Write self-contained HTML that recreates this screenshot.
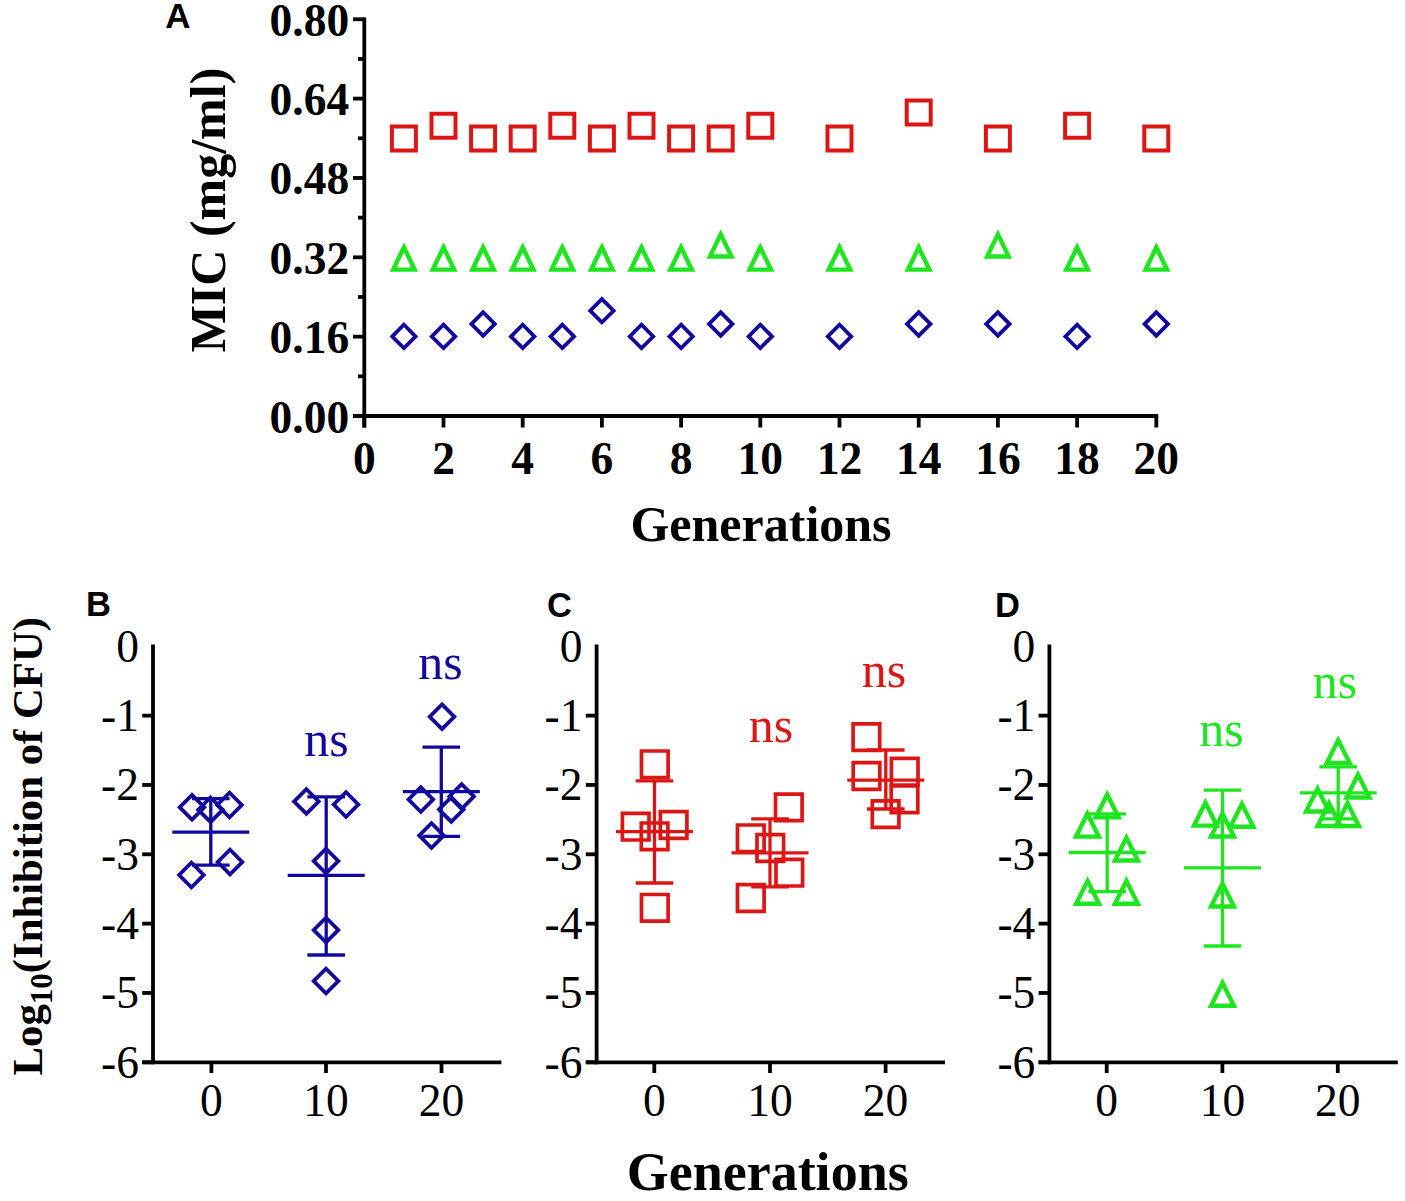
<!DOCTYPE html>
<html><head><meta charset="utf-8"><style>
html,body{margin:0;padding:0;background:#fff;}
svg{display:block;}
</style></head><body>
<svg width="1405" height="1201" viewBox="0 0 1405 1201">
<rect width="1405" height="1201" fill="#fff"/>
<line x1="364.30" y1="17.38" x2="364.30" y2="427.50" stroke="#000" stroke-width="3.8" stroke-linecap="butt"/>
<line x1="353.00" y1="416.00" x2="1158.20" y2="416.00" stroke="#000" stroke-width="3.8" stroke-linecap="butt"/>
<line x1="353.00" y1="416.00" x2="364.30" y2="416.00" stroke="#000" stroke-width="3.8" stroke-linecap="butt"/>
<line x1="353.00" y1="336.66" x2="364.30" y2="336.66" stroke="#000" stroke-width="3.8" stroke-linecap="butt"/>
<line x1="353.00" y1="257.31" x2="364.30" y2="257.31" stroke="#000" stroke-width="3.8" stroke-linecap="butt"/>
<line x1="353.00" y1="177.97" x2="364.30" y2="177.97" stroke="#000" stroke-width="3.8" stroke-linecap="butt"/>
<line x1="353.00" y1="98.62" x2="364.30" y2="98.62" stroke="#000" stroke-width="3.8" stroke-linecap="butt"/>
<line x1="353.00" y1="19.28" x2="364.30" y2="19.28" stroke="#000" stroke-width="3.8" stroke-linecap="butt"/>
<line x1="358.00" y1="376.33" x2="364.30" y2="376.33" stroke="#000" stroke-width="3.8" stroke-linecap="butt"/>
<line x1="358.00" y1="296.98" x2="364.30" y2="296.98" stroke="#000" stroke-width="3.8" stroke-linecap="butt"/>
<line x1="358.00" y1="217.64" x2="364.30" y2="217.64" stroke="#000" stroke-width="3.8" stroke-linecap="butt"/>
<line x1="358.00" y1="138.30" x2="364.30" y2="138.30" stroke="#000" stroke-width="3.8" stroke-linecap="butt"/>
<line x1="358.00" y1="58.95" x2="364.30" y2="58.95" stroke="#000" stroke-width="3.8" stroke-linecap="butt"/>
<line x1="364.30" y1="416.00" x2="364.30" y2="427.50" stroke="#000" stroke-width="3.8" stroke-linecap="butt"/>
<line x1="443.50" y1="416.00" x2="443.50" y2="427.50" stroke="#000" stroke-width="3.8" stroke-linecap="butt"/>
<line x1="522.70" y1="416.00" x2="522.70" y2="427.50" stroke="#000" stroke-width="3.8" stroke-linecap="butt"/>
<line x1="601.90" y1="416.00" x2="601.90" y2="427.50" stroke="#000" stroke-width="3.8" stroke-linecap="butt"/>
<line x1="681.10" y1="416.00" x2="681.10" y2="427.50" stroke="#000" stroke-width="3.8" stroke-linecap="butt"/>
<line x1="760.30" y1="416.00" x2="760.30" y2="427.50" stroke="#000" stroke-width="3.8" stroke-linecap="butt"/>
<line x1="839.50" y1="416.00" x2="839.50" y2="427.50" stroke="#000" stroke-width="3.8" stroke-linecap="butt"/>
<line x1="918.70" y1="416.00" x2="918.70" y2="427.50" stroke="#000" stroke-width="3.8" stroke-linecap="butt"/>
<line x1="997.90" y1="416.00" x2="997.90" y2="427.50" stroke="#000" stroke-width="3.8" stroke-linecap="butt"/>
<line x1="1077.10" y1="416.00" x2="1077.10" y2="427.50" stroke="#000" stroke-width="3.8" stroke-linecap="butt"/>
<line x1="1156.30" y1="416.00" x2="1156.30" y2="427.50" stroke="#000" stroke-width="3.8" stroke-linecap="butt"/>
<text x="349.20" y="432.50" font-family="Liberation Serif" font-size="45.5" font-weight="bold" text-anchor="end" fill="#000" >0.00</text>
<text x="349.20" y="353.16" font-family="Liberation Serif" font-size="45.5" font-weight="bold" text-anchor="end" fill="#000" >0.16</text>
<text x="349.20" y="273.81" font-family="Liberation Serif" font-size="45.5" font-weight="bold" text-anchor="end" fill="#000" >0.32</text>
<text x="349.20" y="194.47" font-family="Liberation Serif" font-size="45.5" font-weight="bold" text-anchor="end" fill="#000" >0.48</text>
<text x="349.20" y="115.12" font-family="Liberation Serif" font-size="45.5" font-weight="bold" text-anchor="end" fill="#000" >0.64</text>
<text x="349.20" y="35.78" font-family="Liberation Serif" font-size="45.5" font-weight="bold" text-anchor="end" fill="#000" >0.80</text>
<text x="364.30" y="474.20" font-family="Liberation Serif" font-size="45.5" font-weight="bold" text-anchor="middle" fill="#000" >0</text>
<text x="443.50" y="474.20" font-family="Liberation Serif" font-size="45.5" font-weight="bold" text-anchor="middle" fill="#000" >2</text>
<text x="522.70" y="474.20" font-family="Liberation Serif" font-size="45.5" font-weight="bold" text-anchor="middle" fill="#000" >4</text>
<text x="601.90" y="474.20" font-family="Liberation Serif" font-size="45.5" font-weight="bold" text-anchor="middle" fill="#000" >6</text>
<text x="681.10" y="474.20" font-family="Liberation Serif" font-size="45.5" font-weight="bold" text-anchor="middle" fill="#000" >8</text>
<text x="760.30" y="474.20" font-family="Liberation Serif" font-size="45.5" font-weight="bold" text-anchor="middle" fill="#000" >10</text>
<text x="839.50" y="474.20" font-family="Liberation Serif" font-size="45.5" font-weight="bold" text-anchor="middle" fill="#000" >12</text>
<text x="918.70" y="474.20" font-family="Liberation Serif" font-size="45.5" font-weight="bold" text-anchor="middle" fill="#000" >14</text>
<text x="997.90" y="474.20" font-family="Liberation Serif" font-size="45.5" font-weight="bold" text-anchor="middle" fill="#000" >16</text>
<text x="1077.10" y="474.20" font-family="Liberation Serif" font-size="45.5" font-weight="bold" text-anchor="middle" fill="#000" >18</text>
<text x="1156.30" y="474.20" font-family="Liberation Serif" font-size="45.5" font-weight="bold" text-anchor="middle" fill="#000" >20</text>
<text x="761.00" y="541.20" font-family="Liberation Serif" font-size="50" font-weight="bold" text-anchor="middle" fill="#000" >Generations</text>
<text x="165.30" y="27.60" font-family="Liberation Sans" font-size="35" font-weight="bold" text-anchor="start" fill="#000" >A</text>
<text transform="translate(224.5,210) rotate(-90)" font-family="Liberation Serif" font-size="50" font-weight="bold" text-anchor="middle" fill="#000">MIC (mg/ml)</text>
<path d="M389.90,124.60H417.90V152.60H389.90Z M393.90,128.60V148.60H413.90V128.60Z" fill="#dc1515"/>
<path d="M429.50,111.80H457.50V139.80H429.50Z M433.50,115.80V135.80H453.50V115.80Z" fill="#dc1515"/>
<path d="M469.10,124.60H497.10V152.60H469.10Z M473.10,128.60V148.60H493.10V128.60Z" fill="#dc1515"/>
<path d="M508.70,124.60H536.70V152.60H508.70Z M512.70,128.60V148.60H532.70V128.60Z" fill="#dc1515"/>
<path d="M548.30,111.80H576.30V139.80H548.30Z M552.30,115.80V135.80H572.30V115.80Z" fill="#dc1515"/>
<path d="M587.90,124.60H615.90V152.60H587.90Z M591.90,128.60V148.60H611.90V128.60Z" fill="#dc1515"/>
<path d="M627.50,111.80H655.50V139.80H627.50Z M631.50,115.80V135.80H651.50V115.80Z" fill="#dc1515"/>
<path d="M667.10,124.60H695.10V152.60H667.10Z M671.10,128.60V148.60H691.10V128.60Z" fill="#dc1515"/>
<path d="M706.70,124.60H734.70V152.60H706.70Z M710.70,128.60V148.60H730.70V128.60Z" fill="#dc1515"/>
<path d="M746.30,111.80H774.30V139.80H746.30Z M750.30,115.80V135.80H770.30V115.80Z" fill="#dc1515"/>
<path d="M825.50,124.60H853.50V152.60H825.50Z M829.50,128.60V148.60H849.50V128.60Z" fill="#dc1515"/>
<path d="M904.70,98.40H932.70V126.40H904.70Z M908.70,102.40V122.40H928.70V102.40Z" fill="#dc1515"/>
<path d="M983.90,124.60H1011.90V152.60H983.90Z M987.90,128.60V148.60H1007.90V128.60Z" fill="#dc1515"/>
<path d="M1063.10,111.80H1091.10V139.80H1063.10Z M1067.10,115.80V135.80H1087.10V115.80Z" fill="#dc1515"/>
<path d="M1142.30,124.60H1170.30V152.60H1142.30Z M1146.30,128.60V148.60H1166.30V128.60Z" fill="#dc1515"/>
<path d="M403.90,242.30L418.15,271.80L389.65,271.80Z M403.90,252.42L396.66,267.40L411.14,267.40Z" fill="#1ee61e"/>
<path d="M443.50,242.30L457.75,271.80L429.25,271.80Z M443.50,252.42L436.26,267.40L450.74,267.40Z" fill="#1ee61e"/>
<path d="M483.10,242.30L497.35,271.80L468.85,271.80Z M483.10,252.42L475.86,267.40L490.34,267.40Z" fill="#1ee61e"/>
<path d="M522.70,242.30L536.95,271.80L508.45,271.80Z M522.70,252.42L515.46,267.40L529.94,267.40Z" fill="#1ee61e"/>
<path d="M562.30,242.30L576.55,271.80L548.05,271.80Z M562.30,252.42L555.06,267.40L569.54,267.40Z" fill="#1ee61e"/>
<path d="M601.90,242.30L616.15,271.80L587.65,271.80Z M601.90,252.42L594.66,267.40L609.14,267.40Z" fill="#1ee61e"/>
<path d="M641.50,242.30L655.75,271.80L627.25,271.80Z M641.50,252.42L634.26,267.40L648.74,267.40Z" fill="#1ee61e"/>
<path d="M681.10,242.30L695.35,271.80L666.85,271.80Z M681.10,252.42L673.86,267.40L688.34,267.40Z" fill="#1ee61e"/>
<path d="M720.70,229.20L734.95,258.70L706.45,258.70Z M720.70,239.32L713.46,254.30L727.94,254.30Z" fill="#1ee61e"/>
<path d="M760.30,242.30L774.55,271.80L746.05,271.80Z M760.30,252.42L753.06,267.40L767.54,267.40Z" fill="#1ee61e"/>
<path d="M839.50,242.30L853.75,271.80L825.25,271.80Z M839.50,252.42L832.26,267.40L846.74,267.40Z" fill="#1ee61e"/>
<path d="M918.70,242.30L932.95,271.80L904.45,271.80Z M918.70,252.42L911.46,267.40L925.94,267.40Z" fill="#1ee61e"/>
<path d="M997.90,229.20L1012.15,258.70L983.65,258.70Z M997.90,239.32L990.66,254.30L1005.14,254.30Z" fill="#1ee61e"/>
<path d="M1077.10,242.30L1091.35,271.80L1062.85,271.80Z M1077.10,252.42L1069.86,267.40L1084.34,267.40Z" fill="#1ee61e"/>
<path d="M1156.30,242.30L1170.55,271.80L1142.05,271.80Z M1156.30,252.42L1149.06,267.40L1163.54,267.40Z" fill="#1ee61e"/>
<path d="M403.90,322.00L418.30,336.40L403.90,350.80L389.50,336.40Z M403.90,327.37L394.87,336.40L403.90,345.43L412.93,336.40Z" fill="#12089e"/>
<path d="M443.50,322.00L457.90,336.40L443.50,350.80L429.10,336.40Z M443.50,327.37L434.47,336.40L443.50,345.43L452.53,336.40Z" fill="#12089e"/>
<path d="M483.10,309.60L497.50,324.00L483.10,338.40L468.70,324.00Z M483.10,314.97L474.07,324.00L483.10,333.03L492.13,324.00Z" fill="#12089e"/>
<path d="M522.70,322.00L537.10,336.40L522.70,350.80L508.30,336.40Z M522.70,327.37L513.67,336.40L522.70,345.43L531.73,336.40Z" fill="#12089e"/>
<path d="M562.30,322.00L576.70,336.40L562.30,350.80L547.90,336.40Z M562.30,327.37L553.27,336.40L562.30,345.43L571.33,336.40Z" fill="#12089e"/>
<path d="M601.90,296.30L616.30,310.70L601.90,325.10L587.50,310.70Z M601.90,301.67L592.87,310.70L601.90,319.73L610.93,310.70Z" fill="#12089e"/>
<path d="M641.50,322.00L655.90,336.40L641.50,350.80L627.10,336.40Z M641.50,327.37L632.47,336.40L641.50,345.43L650.53,336.40Z" fill="#12089e"/>
<path d="M681.10,322.00L695.50,336.40L681.10,350.80L666.70,336.40Z M681.10,327.37L672.07,336.40L681.10,345.43L690.13,336.40Z" fill="#12089e"/>
<path d="M720.70,309.60L735.10,324.00L720.70,338.40L706.30,324.00Z M720.70,314.97L711.67,324.00L720.70,333.03L729.73,324.00Z" fill="#12089e"/>
<path d="M760.30,322.00L774.70,336.40L760.30,350.80L745.90,336.40Z M760.30,327.37L751.27,336.40L760.30,345.43L769.33,336.40Z" fill="#12089e"/>
<path d="M839.50,322.00L853.90,336.40L839.50,350.80L825.10,336.40Z M839.50,327.37L830.47,336.40L839.50,345.43L848.53,336.40Z" fill="#12089e"/>
<path d="M918.70,309.60L933.10,324.00L918.70,338.40L904.30,324.00Z M918.70,314.97L909.67,324.00L918.70,333.03L927.73,324.00Z" fill="#12089e"/>
<path d="M997.90,309.60L1012.30,324.00L997.90,338.40L983.50,324.00Z M997.90,314.97L988.87,324.00L997.90,333.03L1006.93,324.00Z" fill="#12089e"/>
<path d="M1077.10,322.00L1091.50,336.40L1077.10,350.80L1062.70,336.40Z M1077.10,327.37L1068.07,336.40L1077.10,345.43L1086.13,336.40Z" fill="#12089e"/>
<path d="M1156.30,309.60L1170.70,324.00L1156.30,338.40L1141.90,324.00Z M1156.30,314.97L1147.27,324.00L1156.30,333.03L1165.33,324.00Z" fill="#12089e"/>
<line x1="153.00" y1="644.60" x2="153.00" y2="1064.18" stroke="#000" stroke-width="3.8" stroke-linecap="butt"/>
<line x1="142.20" y1="1062.28" x2="501.40" y2="1062.28" stroke="#000" stroke-width="3.8" stroke-linecap="butt"/>
<line x1="142.20" y1="715.63" x2="153.00" y2="715.63" stroke="#000" stroke-width="3.8" stroke-linecap="butt"/>
<line x1="142.20" y1="784.96" x2="153.00" y2="784.96" stroke="#000" stroke-width="3.8" stroke-linecap="butt"/>
<line x1="142.20" y1="854.29" x2="153.00" y2="854.29" stroke="#000" stroke-width="3.8" stroke-linecap="butt"/>
<line x1="142.20" y1="923.62" x2="153.00" y2="923.62" stroke="#000" stroke-width="3.8" stroke-linecap="butt"/>
<line x1="142.20" y1="992.95" x2="153.00" y2="992.95" stroke="#000" stroke-width="3.8" stroke-linecap="butt"/>
<line x1="142.20" y1="1062.28" x2="153.00" y2="1062.28" stroke="#000" stroke-width="3.8" stroke-linecap="butt"/>
<line x1="211.40" y1="1062.28" x2="211.40" y2="1073.00" stroke="#000" stroke-width="3.8" stroke-linecap="butt"/>
<line x1="326.00" y1="1062.28" x2="326.00" y2="1073.00" stroke="#000" stroke-width="3.8" stroke-linecap="butt"/>
<line x1="441.50" y1="1062.28" x2="441.50" y2="1073.00" stroke="#000" stroke-width="3.8" stroke-linecap="butt"/>
<text x="138.90" y="661.60" font-family="Liberation Serif" font-size="45.5" font-weight="normal" text-anchor="end" fill="#000" >0</text>
<text x="138.90" y="730.93" font-family="Liberation Serif" font-size="45.5" font-weight="normal" text-anchor="end" fill="#000" >-1</text>
<text x="138.90" y="800.26" font-family="Liberation Serif" font-size="45.5" font-weight="normal" text-anchor="end" fill="#000" >-2</text>
<text x="138.90" y="869.59" font-family="Liberation Serif" font-size="45.5" font-weight="normal" text-anchor="end" fill="#000" >-3</text>
<text x="138.90" y="938.92" font-family="Liberation Serif" font-size="45.5" font-weight="normal" text-anchor="end" fill="#000" >-4</text>
<text x="138.90" y="1008.25" font-family="Liberation Serif" font-size="45.5" font-weight="normal" text-anchor="end" fill="#000" >-5</text>
<text x="138.90" y="1077.58" font-family="Liberation Serif" font-size="45.5" font-weight="normal" text-anchor="end" fill="#000" >-6</text>
<text x="211.40" y="1115.60" font-family="Liberation Serif" font-size="45.5" font-weight="normal" text-anchor="middle" fill="#000" >0</text>
<text x="326.00" y="1115.60" font-family="Liberation Serif" font-size="45.5" font-weight="normal" text-anchor="middle" fill="#000" >10</text>
<text x="441.50" y="1115.60" font-family="Liberation Serif" font-size="45.5" font-weight="normal" text-anchor="middle" fill="#000" >20</text>
<line x1="596.60" y1="644.60" x2="596.60" y2="1064.18" stroke="#000" stroke-width="3.8" stroke-linecap="butt"/>
<line x1="585.80" y1="1062.28" x2="945.00" y2="1062.28" stroke="#000" stroke-width="3.8" stroke-linecap="butt"/>
<line x1="585.80" y1="715.63" x2="596.60" y2="715.63" stroke="#000" stroke-width="3.8" stroke-linecap="butt"/>
<line x1="585.80" y1="784.96" x2="596.60" y2="784.96" stroke="#000" stroke-width="3.8" stroke-linecap="butt"/>
<line x1="585.80" y1="854.29" x2="596.60" y2="854.29" stroke="#000" stroke-width="3.8" stroke-linecap="butt"/>
<line x1="585.80" y1="923.62" x2="596.60" y2="923.62" stroke="#000" stroke-width="3.8" stroke-linecap="butt"/>
<line x1="585.80" y1="992.95" x2="596.60" y2="992.95" stroke="#000" stroke-width="3.8" stroke-linecap="butt"/>
<line x1="585.80" y1="1062.28" x2="596.60" y2="1062.28" stroke="#000" stroke-width="3.8" stroke-linecap="butt"/>
<line x1="654.30" y1="1062.28" x2="654.30" y2="1073.00" stroke="#000" stroke-width="3.8" stroke-linecap="butt"/>
<line x1="770.00" y1="1062.28" x2="770.00" y2="1073.00" stroke="#000" stroke-width="3.8" stroke-linecap="butt"/>
<line x1="885.60" y1="1062.28" x2="885.60" y2="1073.00" stroke="#000" stroke-width="3.8" stroke-linecap="butt"/>
<text x="582.50" y="661.60" font-family="Liberation Serif" font-size="45.5" font-weight="normal" text-anchor="end" fill="#000" >0</text>
<text x="582.50" y="730.93" font-family="Liberation Serif" font-size="45.5" font-weight="normal" text-anchor="end" fill="#000" >-1</text>
<text x="582.50" y="800.26" font-family="Liberation Serif" font-size="45.5" font-weight="normal" text-anchor="end" fill="#000" >-2</text>
<text x="582.50" y="869.59" font-family="Liberation Serif" font-size="45.5" font-weight="normal" text-anchor="end" fill="#000" >-3</text>
<text x="582.50" y="938.92" font-family="Liberation Serif" font-size="45.5" font-weight="normal" text-anchor="end" fill="#000" >-4</text>
<text x="582.50" y="1008.25" font-family="Liberation Serif" font-size="45.5" font-weight="normal" text-anchor="end" fill="#000" >-5</text>
<text x="582.50" y="1077.58" font-family="Liberation Serif" font-size="45.5" font-weight="normal" text-anchor="end" fill="#000" >-6</text>
<text x="654.30" y="1115.60" font-family="Liberation Serif" font-size="45.5" font-weight="normal" text-anchor="middle" fill="#000" >0</text>
<text x="770.00" y="1115.60" font-family="Liberation Serif" font-size="45.5" font-weight="normal" text-anchor="middle" fill="#000" >10</text>
<text x="885.60" y="1115.60" font-family="Liberation Serif" font-size="45.5" font-weight="normal" text-anchor="middle" fill="#000" >20</text>
<line x1="1049.40" y1="644.60" x2="1049.40" y2="1064.18" stroke="#000" stroke-width="3.8" stroke-linecap="butt"/>
<line x1="1038.60" y1="1062.28" x2="1397.80" y2="1062.28" stroke="#000" stroke-width="3.8" stroke-linecap="butt"/>
<line x1="1038.60" y1="715.63" x2="1049.40" y2="715.63" stroke="#000" stroke-width="3.8" stroke-linecap="butt"/>
<line x1="1038.60" y1="784.96" x2="1049.40" y2="784.96" stroke="#000" stroke-width="3.8" stroke-linecap="butt"/>
<line x1="1038.60" y1="854.29" x2="1049.40" y2="854.29" stroke="#000" stroke-width="3.8" stroke-linecap="butt"/>
<line x1="1038.60" y1="923.62" x2="1049.40" y2="923.62" stroke="#000" stroke-width="3.8" stroke-linecap="butt"/>
<line x1="1038.60" y1="992.95" x2="1049.40" y2="992.95" stroke="#000" stroke-width="3.8" stroke-linecap="butt"/>
<line x1="1038.60" y1="1062.28" x2="1049.40" y2="1062.28" stroke="#000" stroke-width="3.8" stroke-linecap="butt"/>
<line x1="1106.70" y1="1062.28" x2="1106.70" y2="1073.00" stroke="#000" stroke-width="3.8" stroke-linecap="butt"/>
<line x1="1222.40" y1="1062.28" x2="1222.40" y2="1073.00" stroke="#000" stroke-width="3.8" stroke-linecap="butt"/>
<line x1="1337.80" y1="1062.28" x2="1337.80" y2="1073.00" stroke="#000" stroke-width="3.8" stroke-linecap="butt"/>
<text x="1035.30" y="661.60" font-family="Liberation Serif" font-size="45.5" font-weight="normal" text-anchor="end" fill="#000" >0</text>
<text x="1035.30" y="730.93" font-family="Liberation Serif" font-size="45.5" font-weight="normal" text-anchor="end" fill="#000" >-1</text>
<text x="1035.30" y="800.26" font-family="Liberation Serif" font-size="45.5" font-weight="normal" text-anchor="end" fill="#000" >-2</text>
<text x="1035.30" y="869.59" font-family="Liberation Serif" font-size="45.5" font-weight="normal" text-anchor="end" fill="#000" >-3</text>
<text x="1035.30" y="938.92" font-family="Liberation Serif" font-size="45.5" font-weight="normal" text-anchor="end" fill="#000" >-4</text>
<text x="1035.30" y="1008.25" font-family="Liberation Serif" font-size="45.5" font-weight="normal" text-anchor="end" fill="#000" >-5</text>
<text x="1035.30" y="1077.58" font-family="Liberation Serif" font-size="45.5" font-weight="normal" text-anchor="end" fill="#000" >-6</text>
<text x="1106.70" y="1115.60" font-family="Liberation Serif" font-size="45.5" font-weight="normal" text-anchor="middle" fill="#000" >0</text>
<text x="1222.40" y="1115.60" font-family="Liberation Serif" font-size="45.5" font-weight="normal" text-anchor="middle" fill="#000" >10</text>
<text x="1337.80" y="1115.60" font-family="Liberation Serif" font-size="45.5" font-weight="normal" text-anchor="middle" fill="#000" >20</text>
<text x="85.89" y="616.00" font-family="Liberation Sans" font-size="34.5" font-weight="bold" text-anchor="start" fill="#000" >B</text>
<text x="547.00" y="617.00" font-family="Liberation Sans" font-size="34.5" font-weight="bold" text-anchor="start" fill="#000" >C</text>
<text x="995.08" y="616.80" font-family="Liberation Sans" font-size="34.5" font-weight="bold" text-anchor="start" fill="#000" >D</text>
<text x="767.70" y="1189.70" font-family="Liberation Serif" font-size="54" font-weight="bold" text-anchor="middle" fill="#000" >Generations</text>
<text transform="translate(41.7,1075.5) rotate(-90)" font-family="Liberation Serif" font-size="42.75" font-weight="bold" text-anchor="start" fill="#000">Log<tspan font-size="31" dy="10.3">10</tspan><tspan dy="-10.3">(Inhibition of CFU)</tspan></text>
<path d="M192.00,792.30L207.00,807.30L192.00,822.30L177.00,807.30Z M192.00,797.67L182.37,807.30L192.00,816.93L201.63,807.30Z" fill="#12089e"/>
<path d="M229.50,790.00L244.50,805.00L229.50,820.00L214.50,805.00Z M229.50,795.37L219.87,805.00L229.50,814.63L239.13,805.00Z" fill="#12089e"/>
<path d="M210.50,794.70L225.50,809.70L210.50,824.70L195.50,809.70Z M210.50,800.07L200.87,809.70L210.50,819.33L220.13,809.70Z" fill="#12089e"/>
<path d="M230.00,847.00L245.00,862.00L230.00,877.00L215.00,862.00Z M230.00,852.37L220.37,862.00L230.00,871.63L239.63,862.00Z" fill="#12089e"/>
<path d="M191.40,860.00L206.40,875.00L191.40,890.00L176.40,875.00Z M191.40,865.37L181.77,875.00L191.40,884.63L201.03,875.00Z" fill="#12089e"/>
<line x1="210.80" y1="798.70" x2="210.80" y2="865.20" stroke="#12089e" stroke-width="3.3" stroke-linecap="butt"/>
<line x1="172.30" y1="832.20" x2="249.30" y2="832.20" stroke="#12089e" stroke-width="3.3" stroke-linecap="butt"/>
<line x1="192.00" y1="798.70" x2="229.60" y2="798.70" stroke="#12089e" stroke-width="3.3" stroke-linecap="butt"/>
<line x1="192.00" y1="865.20" x2="229.60" y2="865.20" stroke="#12089e" stroke-width="3.3" stroke-linecap="butt"/>
<path d="M306.40,786.40L321.40,801.40L306.40,816.40L291.40,801.40Z M306.40,791.77L296.77,801.40L306.40,811.03L316.03,801.40Z" fill="#12089e"/>
<path d="M346.00,789.50L361.00,804.50L346.00,819.50L331.00,804.50Z M346.00,794.87L336.37,804.50L346.00,814.13L355.63,804.50Z" fill="#12089e"/>
<path d="M326.00,846.00L341.00,861.00L326.00,876.00L311.00,861.00Z M326.00,851.37L316.37,861.00L326.00,870.63L335.63,861.00Z" fill="#12089e"/>
<path d="M326.00,915.00L341.00,930.00L326.00,945.00L311.00,930.00Z M326.00,920.37L316.37,930.00L326.00,939.63L335.63,930.00Z" fill="#12089e"/>
<path d="M326.00,966.00L341.00,981.00L326.00,996.00L311.00,981.00Z M326.00,971.37L316.37,981.00L326.00,990.63L335.63,981.00Z" fill="#12089e"/>
<line x1="326.20" y1="796.80" x2="326.20" y2="955.00" stroke="#12089e" stroke-width="3.3" stroke-linecap="butt"/>
<line x1="287.70" y1="875.40" x2="364.70" y2="875.40" stroke="#12089e" stroke-width="3.3" stroke-linecap="butt"/>
<line x1="307.40" y1="796.80" x2="345.00" y2="796.80" stroke="#12089e" stroke-width="3.3" stroke-linecap="butt"/>
<line x1="307.40" y1="955.00" x2="345.00" y2="955.00" stroke="#12089e" stroke-width="3.3" stroke-linecap="butt"/>
<path d="M442.00,701.70L457.00,716.70L442.00,731.70L427.00,716.70Z M442.00,707.07L432.37,716.70L442.00,726.33L451.63,716.70Z" fill="#12089e"/>
<path d="M420.80,784.50L435.80,799.50L420.80,814.50L405.80,799.50Z M420.80,789.87L411.17,799.50L420.80,809.13L430.43,799.50Z" fill="#12089e"/>
<path d="M461.60,781.50L476.60,796.50L461.60,811.50L446.60,796.50Z M461.60,786.87L451.97,796.50L461.60,806.13L471.23,796.50Z" fill="#12089e"/>
<path d="M451.30,794.40L466.30,809.40L451.30,824.40L436.30,809.40Z M451.30,799.77L441.67,809.40L451.30,819.03L460.93,809.40Z" fill="#12089e"/>
<path d="M431.50,820.50L446.50,835.50L431.50,850.50L416.50,835.50Z M431.50,825.87L421.87,835.50L431.50,845.13L441.13,835.50Z" fill="#12089e"/>
<line x1="441.30" y1="747.20" x2="441.30" y2="836.30" stroke="#12089e" stroke-width="3.3" stroke-linecap="butt"/>
<line x1="402.80" y1="791.60" x2="479.80" y2="791.60" stroke="#12089e" stroke-width="3.3" stroke-linecap="butt"/>
<line x1="422.50" y1="747.20" x2="460.10" y2="747.20" stroke="#12089e" stroke-width="3.3" stroke-linecap="butt"/>
<line x1="422.50" y1="836.30" x2="460.10" y2="836.30" stroke="#12089e" stroke-width="3.3" stroke-linecap="butt"/>
<text x="326.60" y="755.60" font-family="Liberation Serif" font-size="50" font-weight="normal" text-anchor="middle" fill="#12089e" >ns</text>
<text x="440.50" y="678.70" font-family="Liberation Serif" font-size="50" font-weight="normal" text-anchor="middle" fill="#12089e" >ns</text>
<path d="M639.65,749.15H669.95V779.45H639.65Z M643.35,752.85V775.75H666.25V752.85Z" fill="#dc1515"/>
<path d="M620.55,811.55H650.85V841.85H620.55Z M624.25,815.25V838.15H647.15V815.25Z" fill="#dc1515"/>
<path d="M658.45,809.85H688.75V840.15H658.45Z M662.15,813.55V836.45H685.05V813.55Z" fill="#dc1515"/>
<path d="M639.45,821.15H669.75V851.45H639.45Z M643.15,824.85V847.75H666.05V824.85Z" fill="#dc1515"/>
<path d="M639.65,892.65H669.95V922.95H639.65Z M643.35,896.35V919.25H666.25V896.35Z" fill="#dc1515"/>
<line x1="654.50" y1="780.80" x2="654.50" y2="883.00" stroke="#dc1515" stroke-width="3.3" stroke-linecap="butt"/>
<line x1="616.00" y1="831.70" x2="693.00" y2="831.70" stroke="#dc1515" stroke-width="3.3" stroke-linecap="butt"/>
<line x1="635.70" y1="780.80" x2="673.30" y2="780.80" stroke="#dc1515" stroke-width="3.3" stroke-linecap="butt"/>
<line x1="635.70" y1="883.00" x2="673.30" y2="883.00" stroke="#dc1515" stroke-width="3.3" stroke-linecap="butt"/>
<path d="M773.65,792.25H803.95V822.55H773.65Z M777.35,795.95V818.85H800.25V795.95Z" fill="#dc1515"/>
<path d="M735.65,823.15H765.95V853.45H735.65Z M739.35,826.85V849.75H762.25V826.85Z" fill="#dc1515"/>
<path d="M755.15,832.85H785.45V863.15H755.15Z M758.85,836.55V859.45H781.75V836.55Z" fill="#dc1515"/>
<path d="M774.15,857.55H804.45V887.85H774.15Z M777.85,861.25V884.15H800.75V861.25Z" fill="#dc1515"/>
<path d="M735.65,882.85H765.95V913.15H735.65Z M739.35,886.55V909.45H762.25V886.55Z" fill="#dc1515"/>
<line x1="770.00" y1="818.80" x2="770.00" y2="886.90" stroke="#dc1515" stroke-width="3.3" stroke-linecap="butt"/>
<line x1="731.50" y1="852.90" x2="808.50" y2="852.90" stroke="#dc1515" stroke-width="3.3" stroke-linecap="butt"/>
<line x1="751.20" y1="818.80" x2="788.80" y2="818.80" stroke="#dc1515" stroke-width="3.3" stroke-linecap="butt"/>
<line x1="751.20" y1="886.90" x2="788.80" y2="886.90" stroke="#dc1515" stroke-width="3.3" stroke-linecap="butt"/>
<path d="M851.25,721.95H881.55V752.25H851.25Z M854.95,725.65V748.55H877.85V725.65Z" fill="#dc1515"/>
<path d="M851.35,760.85H881.65V791.15H851.35Z M855.05,764.55V787.45H877.95V764.55Z" fill="#dc1515"/>
<path d="M889.55,756.55H919.85V786.85H889.55Z M893.25,760.25V783.15H916.15V760.25Z" fill="#dc1515"/>
<path d="M889.35,784.15H919.65V814.45H889.35Z M893.05,787.85V810.75H915.95V787.85Z" fill="#dc1515"/>
<path d="M870.45,798.95H900.75V829.25H870.45Z M874.15,802.65V825.55H897.05V802.65Z" fill="#dc1515"/>
<line x1="885.80" y1="750.00" x2="885.80" y2="809.00" stroke="#dc1515" stroke-width="3.3" stroke-linecap="butt"/>
<line x1="847.30" y1="780.20" x2="924.30" y2="780.20" stroke="#dc1515" stroke-width="3.3" stroke-linecap="butt"/>
<line x1="867.00" y1="750.00" x2="904.60" y2="750.00" stroke="#dc1515" stroke-width="3.3" stroke-linecap="butt"/>
<line x1="867.00" y1="809.00" x2="904.60" y2="809.00" stroke="#dc1515" stroke-width="3.3" stroke-linecap="butt"/>
<text x="770.90" y="741.60" font-family="Liberation Serif" font-size="50" font-weight="normal" text-anchor="middle" fill="#dc1515" >ns</text>
<text x="884.10" y="686.50" font-family="Liberation Serif" font-size="50" font-weight="normal" text-anchor="middle" fill="#dc1515" >ns</text>
<path d="M1107.20,789.60L1122.20,819.60L1092.20,819.60Z M1107.20,799.44L1099.32,815.20L1115.08,815.20Z" fill="#1ee61e"/>
<path d="M1087.40,808.80L1102.40,838.80L1072.40,838.80Z M1087.40,818.64L1079.52,834.40L1095.28,834.40Z" fill="#1ee61e"/>
<path d="M1126.40,832.70L1141.40,862.70L1111.40,862.70Z M1126.40,842.54L1118.52,858.30L1134.28,858.30Z" fill="#1ee61e"/>
<path d="M1087.60,875.90L1102.60,905.90L1072.60,905.90Z M1087.60,885.74L1079.72,901.50L1095.48,901.50Z" fill="#1ee61e"/>
<path d="M1126.40,875.90L1141.40,905.90L1111.40,905.90Z M1126.40,885.74L1118.52,901.50L1134.28,901.50Z" fill="#1ee61e"/>
<line x1="1107.20" y1="813.80" x2="1107.20" y2="891.70" stroke="#1ee61e" stroke-width="3.3" stroke-linecap="butt"/>
<line x1="1068.70" y1="852.50" x2="1145.70" y2="852.50" stroke="#1ee61e" stroke-width="3.3" stroke-linecap="butt"/>
<line x1="1088.40" y1="813.80" x2="1126.00" y2="813.80" stroke="#1ee61e" stroke-width="3.3" stroke-linecap="butt"/>
<line x1="1088.40" y1="891.70" x2="1126.00" y2="891.70" stroke="#1ee61e" stroke-width="3.3" stroke-linecap="butt"/>
<path d="M1205.40,797.80L1220.40,827.80L1190.40,827.80Z M1205.40,807.64L1197.52,823.40L1213.28,823.40Z" fill="#1ee61e"/>
<path d="M1241.90,798.90L1256.90,828.90L1226.90,828.90Z M1241.90,808.74L1234.02,824.50L1249.78,824.50Z" fill="#1ee61e"/>
<path d="M1222.50,808.70L1237.50,838.70L1207.50,838.70Z M1222.50,818.54L1214.62,834.30L1230.38,834.30Z" fill="#1ee61e"/>
<path d="M1222.50,878.70L1237.50,908.70L1207.50,908.70Z M1222.50,888.54L1214.62,904.30L1230.38,904.30Z" fill="#1ee61e"/>
<path d="M1222.50,978.00L1237.50,1008.00L1207.50,1008.00Z M1222.50,987.84L1214.62,1003.60L1230.38,1003.60Z" fill="#1ee61e"/>
<line x1="1222.50" y1="790.20" x2="1222.50" y2="946.00" stroke="#1ee61e" stroke-width="3.3" stroke-linecap="butt"/>
<line x1="1184.00" y1="867.90" x2="1261.00" y2="867.90" stroke="#1ee61e" stroke-width="3.3" stroke-linecap="butt"/>
<line x1="1203.70" y1="790.20" x2="1241.30" y2="790.20" stroke="#1ee61e" stroke-width="3.3" stroke-linecap="butt"/>
<line x1="1203.70" y1="946.00" x2="1241.30" y2="946.00" stroke="#1ee61e" stroke-width="3.3" stroke-linecap="butt"/>
<path d="M1338.20,735.20L1353.20,765.20L1323.20,765.20Z M1338.20,745.04L1330.32,760.80L1346.08,760.80Z" fill="#1ee61e"/>
<path d="M1358.00,769.70L1373.00,799.70L1343.00,799.70Z M1358.00,779.54L1350.12,795.30L1365.88,795.30Z" fill="#1ee61e"/>
<path d="M1317.50,783.70L1332.50,813.70L1302.50,813.70Z M1317.50,793.54L1309.62,809.30L1325.38,809.30Z" fill="#1ee61e"/>
<path d="M1329.00,798.20L1344.00,828.20L1314.00,828.20Z M1329.00,808.04L1321.12,823.80L1336.88,823.80Z" fill="#1ee61e"/>
<path d="M1347.50,798.20L1362.50,828.20L1332.50,828.20Z M1347.50,808.04L1339.62,823.80L1355.38,823.80Z" fill="#1ee61e"/>
<line x1="1338.20" y1="766.80" x2="1338.20" y2="818.80" stroke="#1ee61e" stroke-width="3.3" stroke-linecap="butt"/>
<line x1="1299.70" y1="792.80" x2="1376.70" y2="792.80" stroke="#1ee61e" stroke-width="3.3" stroke-linecap="butt"/>
<line x1="1319.40" y1="766.80" x2="1357.00" y2="766.80" stroke="#1ee61e" stroke-width="3.3" stroke-linecap="butt"/>
<line x1="1319.40" y1="818.80" x2="1357.00" y2="818.80" stroke="#1ee61e" stroke-width="3.3" stroke-linecap="butt"/>
<text x="1221.40" y="745.80" font-family="Liberation Serif" font-size="50" font-weight="normal" text-anchor="middle" fill="#1ee61e" >ns</text>
<text x="1334.90" y="697.80" font-family="Liberation Serif" font-size="50" font-weight="normal" text-anchor="middle" fill="#1ee61e" >ns</text>
</svg>
</body></html>
